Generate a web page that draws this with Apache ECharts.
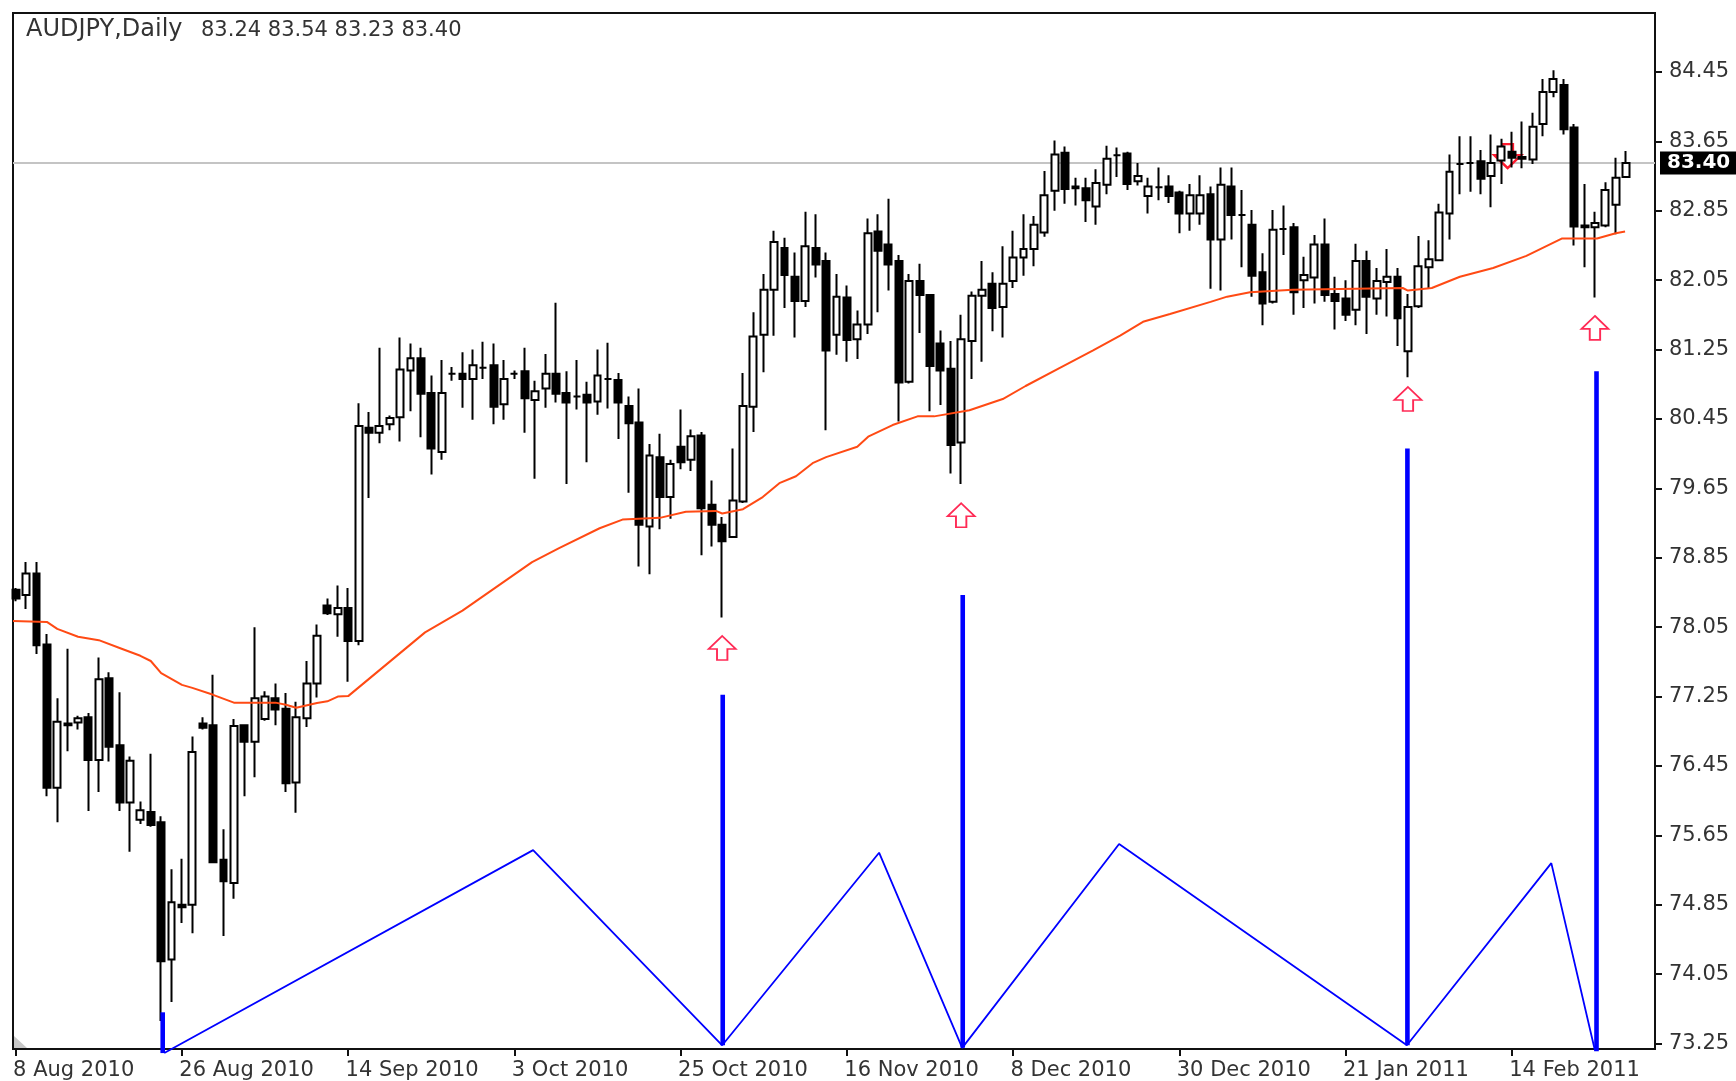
<!DOCTYPE html>
<html><head><meta charset="utf-8">
<style>html,body{margin:0;padding:0;background:#fff}#c{width:1736px;height:1081px}</style>
<script src="https://cdn.jsdelivr.net/npm/echarts@6/dist/echarts.min.js"></script></head>
<body><div id="c"></div>
<script>
const headline = 'AUDJPY,Daily';
const quote = '83.24 83.54 83.23 83.40';
const lastPrice = 83.40;
const tickIndex = [0,16,32,48,64,80,96,112,128,144];
const tickLabels = ['8 Aug 2010','26 Aug 2010','14 Sep 2010','3 Oct 2010','25 Oct 2010','16 Nov 2010','8 Dec 2010','30 Dec 2010','21 Jan 2011','14 Feb 2011'];
const priceTicks = [73.25,74.05,74.85,75.65,76.45,77.25,78.05,78.85,79.65,80.45,81.25,82.05,82.85,83.65,84.45];
// open, close, low, high per daily bar
const ohlc = [
[78.48,78.38,78.35,78.50],[78.42,78.67,78.26,78.80],[78.67,77.84,77.74,78.80],[77.85,76.20,76.10,77.97],[76.20,76.96,75.80,77.23],
[76.94,76.92,76.62,77.80],[76.95,77.00,76.87,77.03],[77.01,76.52,75.93,77.06],[76.52,77.45,76.15,77.70],[77.46,76.67,76.50,77.53],
[76.69,76.03,75.93,77.30],[76.03,76.51,75.46,76.56],[75.83,75.94,75.78,76.04],[75.92,75.77,75.75,76.59],[75.80,74.20,73.51,75.87],
[74.22,74.88,73.73,75.26],[74.85,74.82,74.64,75.38],[74.85,76.61,74.52,76.79],[76.94,76.89,76.87,77.01],[76.92,75.34,75.34,77.50],
[75.37,75.12,74.49,75.72],[75.10,76.91,74.92,76.99],[76.92,76.73,76.10,76.93],[76.73,77.23,76.32,78.05],[76.99,77.25,76.97,77.31],
[77.23,77.10,76.92,77.40],[77.11,76.25,76.15,77.29],[76.26,77.01,75.91,77.19],[77.00,77.40,76.90,77.66],[77.40,77.95,77.24,78.08],
[78.30,78.21,78.19,78.38],[78.20,78.27,77.94,78.53],[78.27,77.89,77.42,78.50],[77.89,80.37,77.84,80.63],[80.35,80.29,79.54,80.53],
[80.29,80.37,80.17,81.27],[80.39,80.46,80.32,80.49],[80.47,81.02,80.19,81.39],[81.01,81.15,80.54,81.32],[81.15,80.74,80.24,81.27],
[80.75,80.11,79.81,80.95],[80.07,80.75,79.98,81.13],[80.97,80.97,80.89,81.05],[80.97,80.91,80.58,81.22],[80.91,81.07,80.44,81.25],
[81.04,81.04,80.91,81.34],[81.07,80.59,80.39,81.32],[80.62,80.91,80.44,81.13],[80.97,80.97,80.91,81.01],[81.00,80.69,80.29,81.27],
[80.67,80.77,79.76,80.89],[80.80,80.97,80.58,81.20],[80.97,80.74,80.64,81.79],[80.75,80.64,79.70,81.00],[80.71,80.71,80.56,81.13],
[80.73,80.64,79.95,80.88],[80.65,80.95,80.50,81.25],[80.91,80.91,80.57,81.33],[80.90,80.64,80.22,80.98],[80.60,80.40,79.60,80.71],
[80.41,79.23,78.75,80.80],[79.21,80.03,78.66,80.16],[80.01,79.55,79.18,80.28],[79.55,79.93,79.30,79.98],[80.13,79.95,79.87,80.56],
[79.98,80.25,79.85,80.33],[80.26,79.42,78.88,80.30],[79.46,79.23,78.98,79.74],[79.23,79.04,78.16,79.32],[79.09,79.51,79.09,80.11],
[79.50,80.60,79.48,80.98],[80.59,81.40,80.30,81.68],[81.42,81.94,80.99,82.12],[81.94,82.49,81.41,82.62],[82.42,82.11,81.73,82.54],
[82.09,81.81,81.39,82.37],[81.81,82.44,81.74,82.84],[82.42,82.23,82.08,82.81],[82.27,81.24,80.32,82.37],[81.42,81.86,81.19,82.12],
[81.85,81.36,81.11,81.99],[81.37,81.54,81.14,81.70],[81.54,82.59,81.43,82.76],[82.61,82.39,81.68,82.81],[82.46,82.23,81.93,82.99],
[82.27,80.87,80.42,82.34],[80.88,82.04,80.86,82.12],[82.04,81.88,81.44,82.24],[81.88,81.06,80.54,81.89],[81.32,81.01,80.61,81.47],
[81.03,80.15,79.82,81.35],[80.18,81.37,79.70,81.65],[81.35,81.87,80.91,81.92],[81.87,81.94,81.11,82.27],[82.01,81.73,81.46,82.14],
[81.74,82.01,81.39,82.44],[82.04,82.31,81.96,82.62],[82.31,82.41,82.10,82.81],[82.41,82.69,82.21,82.79],[82.60,83.03,82.55,83.31],
[83.08,83.50,82.85,83.66],[83.52,83.10,82.93,83.59],[83.13,83.11,82.91,83.23],[83.11,82.97,82.72,83.23],[82.90,83.17,82.69,83.33],
[83.15,83.45,83.04,83.60],[83.49,83.49,83.24,83.58],[83.51,83.16,83.09,83.53],[83.19,83.25,83.14,83.40],[83.02,83.13,82.82,83.23],
[83.12,83.12,82.97,83.35],[83.13,83.02,82.94,83.26],[83.06,82.82,82.59,83.08],[82.82,83.03,82.62,83.16],[82.82,83.03,82.69,83.26],
[83.04,82.52,81.95,83.13],[82.52,83.15,81.93,83.35],[83.13,82.80,82.52,83.35],[82.80,82.80,82.20,83.09],[82.69,82.10,81.86,82.86],
[82.14,81.78,81.53,82.36],[81.80,82.63,81.78,82.86],[82.64,82.64,82.34,82.91],[82.66,81.91,81.65,82.71],[82.05,82.11,81.73,82.32],
[82.08,82.46,81.78,82.57],[82.46,81.88,81.80,82.76],[81.89,81.81,81.48,82.09],[81.84,81.65,81.58,82.05],[81.71,82.27,81.53,82.47],
[82.27,81.86,81.43,82.39],[81.84,82.04,81.65,82.19],[82.03,82.09,81.63,82.41],[82.09,81.61,81.29,82.19],[81.23,81.74,80.93,81.89],
[81.75,82.21,81.73,82.56],[82.20,82.29,81.96,82.51],[82.28,82.83,82.27,82.93],[82.82,83.30,82.52,83.50],[83.39,83.39,83.04,83.71],
[83.40,83.40,83.07,83.71],[83.42,83.22,83.04,83.55],[83.25,83.40,82.89,83.73],[83.43,83.59,83.16,83.68],[83.53,83.46,83.35,83.76],
[83.47,83.45,83.34,83.88],[83.44,83.82,83.39,83.98],[83.85,84.22,83.71,84.37],[84.22,84.37,84.16,84.47],[84.30,83.79,83.73,84.37],
[83.81,82.67,82.45,83.85],[82.68,82.66,82.20,83.16],[82.66,82.71,81.85,82.84],[82.68,83.09,82.66,83.18],[82.92,83.23,82.58,83.46],
[83.24,83.40,83.23,83.54]
];
// moving average: readings at bar positions
const maBars = [-0.26,3,4,6,8,10,12,13,14,16,17,19,21,25,26,27,29,30,31,32,39.4,43,49.7,52.3,56.2,58.4,62,64.5,67.4,68,70,71.9,73.5,75.1,76.7,78,81,82.1,84.4,86.8,88.4,91.8,95,97.2,100.5,103.7,106.3,108.5,111.1,115,116.6,118.8,122.9,133.5,134,136.3,139,142.2,145.4,148.8,152.2,154,154.9];
const maValues = [78.12,78.11,78.03,77.94,77.90,77.81,77.72,77.66,77.52,77.385,77.35,77.27,77.18,77.18,77.155,77.12,77.175,77.195,77.25,77.255,77.99,78.24,78.80,78.96,79.19,79.29,79.31,79.38,79.39,79.36,79.41,79.55,79.71,79.79,79.94,80.01,80.13,80.25,80.38,80.48,80.48,80.55,80.68,80.83,81.04,81.24,81.41,81.57,81.66,81.80,81.86,81.91,81.94,81.96,81.93,81.96,82.09,82.19,82.33,82.53,82.53,82.59,82.61];
// zigzag indicator
const zigBars = [14.3,49.8,68.0,83.1,91.1,106.2,133.9,147.8,152.0];
const zigValues = [73.14,75.48,73.23,75.45,73.20,75.55,73.23,75.33,73.17];
// thick indicator columns
const colBars = [14.15,68.05,91.15,133.95,152.15];
const colBase = [73.14,73.23,73.20,73.23,73.16];
const colTops = [73.61,77.27,78.42,80.11,81.00];
// arrow signals
const upBars = [68.0,91.0,134.0,152.0];
const upValues = [77.81,79.34,80.68,81.50];
const downBars = [143.6];
const downValues = [83.48];

const arrow = 'path://M13,0 L26,13 L18,13 L18,24 L8,24 L8,13 L0,13 Z';
const frame = '#111';
const font = 'DejaVu Sans';
const txt = '#333';
const labelShift = 0.25;

const chart = echarts.init(document.getElementById('c'), null, {renderer:'canvas'});
const colSeries = colBars.map((x,i)=>({
  type:'line', data:[[x,colBase[i]],[x,colTops[i]]], showSymbol:false, symbol:'none', clip:false, silent:true, z:5,
  lineStyle:{color:'#0000ff',width:4.6,cap:'butt'}
}));
chart.setOption({
  animation:false,
  backgroundColor:'#fff',
  title:[
    {text:headline,left:26,top:18,padding:0,textStyle:{fontFamily:font,fontSize:24,fontWeight:'normal',color:txt}},
    {text:quote,left:201,top:20,padding:0,textStyle:{fontFamily:font,fontSize:21,fontWeight:'normal',color:txt}}
  ],
  grid:{left:13,right:81,top:13,bottom:32,show:true,borderColor:frame,borderWidth:2,backgroundColor:'#fff',containLabel:false},
  xAxis:{
    type:'value',min:-0.26,max:157.78,splitLine:{show:false},
    axisLine:{show:false,onZero:false},
    axisTick:{show:true,length:7,inside:false,lineStyle:{color:frame,width:2},customValues:tickIndex},
    axisLabel:{
      show:true,fontFamily:font,fontSize:21,color:txt,margin:11,align:'left',
      customValues:tickIndex.map(v=>v-labelShift),
      formatter:v=>tickLabels[tickIndex.indexOf(Math.round(v+labelShift))]||''
    }
  },
  yAxis:{
    type:'value',position:'right',min:73.187,max:85.13,splitLine:{show:false},
    axisLine:{show:false,onZero:false},
    axisTick:{show:true,length:7,lineStyle:{color:frame,width:2},customValues:priceTicks},
    axisLabel:{
      show:true,fontFamily:font,fontSize:21,color:txt,margin:14,
      customValues:priceTicks,formatter:v=>v.toFixed(2)
    }
  },
  graphic:[{type:'polygon',z:10,shape:{points:[[14,1036],[14,1048],[27,1048]]},style:{fill:'#c8c8c8'},silent:true}],
  series:[
    {
      type:'line',data:[],z:1,silent:true,
      markLine:{
        z:1,silent:true,symbol:'none',animation:false,
        lineStyle:{color:'#c4c4c4',width:2,type:'solid'},
        label:{show:true,position:'end',distance:5,formatter:()=>lastPrice.toFixed(2),
          backgroundColor:'#000',color:'#fff',fontFamily:font,fontSize:20,fontWeight:'bold',padding:[2,7,1,7]},
        data:[{yAxis:lastPrice}]
      }
    },
    {
      type:'scatter',name:'down',z:1,silent:true,symbol:arrow,symbolSize:[27,24],symbolRotate:180,
      data:downBars.map((x,i)=>[x,downValues[i]]),
      itemStyle:{color:'#fff',borderColor:'#ff1a2e',borderWidth:2.4,opacity:1}
    },
    {
      type:'candlestick',z:2,silent:true,barWidth:7.4,
      encode:{x:0,y:[1,2,3,4]},
      data:ohlc.map((r,i)=>[i,r[0],r[1],r[2],r[3]]),
      itemStyle:{color:'#fff',color0:'#000',borderColor:'#000',borderColor0:'#000',borderColorDoji:'#000',borderWidth:2}
    },
    {
      type:'line',z:3,silent:true,showSymbol:false,symbol:'none',
      data:maBars.map((x,i)=>[x,maValues[i]]),
      lineStyle:{color:'#ff4a14',width:2}
    },
    {
      type:'line',z:4,silent:true,showSymbol:false,symbol:'none',clip:false,
      data:zigBars.map((x,i)=>[x,zigValues[i]]),
      lineStyle:{color:'#0000ff',width:1.8}
    },
    ...colSeries,
    {
      type:'scatter',name:'up',z:6,silent:true,symbol:arrow,symbolSize:[27,24],
      data:upBars.map((x,i)=>[x,upValues[i]]),
      itemStyle:{color:'#fff',borderColor:'#ff2a55',borderWidth:1.8,opacity:1}
    }
  ]
});
</script></body></html>
